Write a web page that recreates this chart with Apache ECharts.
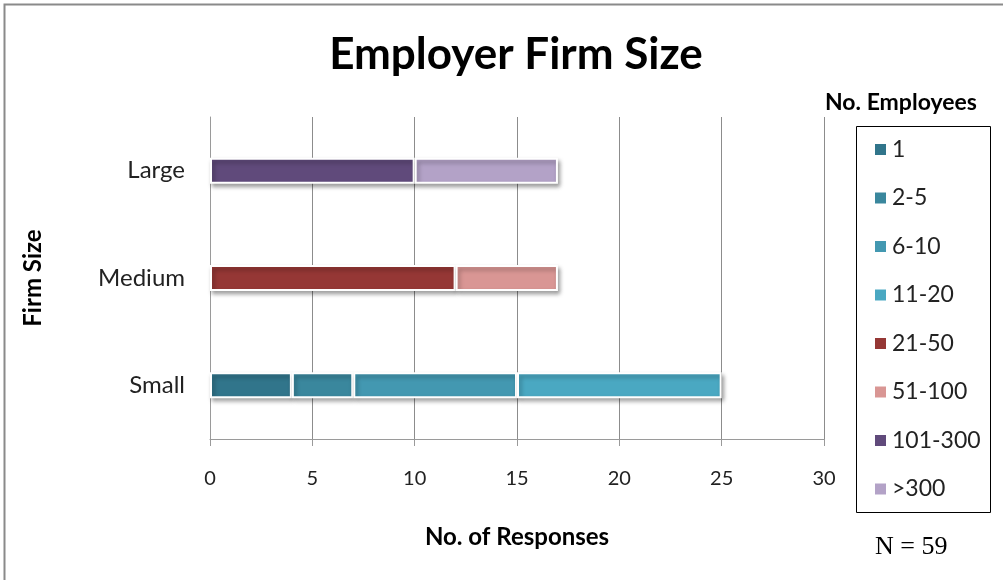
<!DOCTYPE html>
<html>
<head>
<meta charset="utf-8">
<script src="https://cdn.jsdelivr.net/npm/echarts@6/dist/echarts.min.js"></script>
<style>
  html, body { margin: 0; padding: 0; background: #fff; }
  #chart { width: 1003px; height: 580px; }
</style>
</head>
<body>
<div id="chart"></div>
<script>
// Firm size categories (bottom to top on the vertical axis)
const firmSizes = ['Small', 'Medium', 'Large'];

// Employee-count bands shown in the legend
const bands = ['1', '2-5', '6-10', '11-20', '21-50', '51-100', '101-300', '>300'];

// Responses per band, per firm size (Small, Medium, Large)
const resp1      = [4, null, null];
const resp2to5   = [3, null, null];
const resp6to10  = [8, null, null];
const resp11to20 = [10, null, null];
const resp21to50 = [null, 12, null];
const resp51to100 = [null, 5, null];
const resp101to300 = [null, null, 10];
const respOver300 = [null, null, 7];

const bandValues = [resp1, resp2to5, resp6to10, resp11to20, resp21to50, resp51to100, resp101to300, respOver300];

const bandColors = ['#31758B', '#3A879D', '#4398B1', '#4AA8C2', '#953735', '#D99694', '#604A7B', '#B3A2C7'];

const xTicks = [0, 5, 10, 15, 20, 25, 30];

const FONT = 'Lato, "Open Sans", sans-serif';

const chart = echarts.init(document.getElementById('chart'));

const series = bands.map((name, i) => ({
  name: name,
  type: 'bar',
  stack: 'total',
  barWidth: 26,
  data: bandValues[i],
  itemStyle: {
    color: bandColors[i],
    borderColor: '#ffffff',
    borderWidth: 2,
    shadowColor: 'rgba(0,0,0,0.35)',
    shadowBlur: 4,
    shadowOffsetX: 2,
    shadowOffsetY: 3
  },
  emphasis: { disabled: true }
}));

chart.setOption({
  animation: false,
  backgroundColor: '#ffffff',
  title: {
    text: 'Employer Firm Size',
    left: 511,
    top: 28,
    textAlign: 'center',
    textStyle: { fontFamily: FONT, fontSize: 44, fontWeight: 'bold', color: '#000' }
  },
  grid: { left: 210, right: 179, top: 117, bottom: 141, containLabel: false },
  xAxis: {
    type: 'value',
    min: xTicks[0],
    max: xTicks[xTicks.length - 1],
    interval: 5,
    name: 'No. of Responses',
    nameLocation: 'middle',
    nameGap: 86,
    nameTextStyle: { fontFamily: FONT, fontSize: 24, fontWeight: 'bold', color: '#000' },
    axisLine: { show: true, lineStyle: { color: '#9a9a9a', width: 1 } },
    axisTick: { show: true, length: 7, lineStyle: { color: '#9a9a9a' } },
    axisLabel: { fontFamily: FONT, fontSize: 20, color: '#222', margin: 30 },
    splitLine: { show: true, lineStyle: { color: '#8c8c8c', width: 1 } }
  },
  yAxis: {
    type: 'category',
    data: firmSizes,
    name: 'Firm Size',
    nameLocation: 'middle',
    nameGap: 165,
    nameRotate: 90,
    nameTextStyle: { fontFamily: FONT, fontSize: 24, fontWeight: 'bold', color: '#000' },
    axisLine: { show: true, lineStyle: { color: '#9a9a9a', width: 1 } },
    axisTick: { show: false },
    axisLabel: { fontFamily: FONT, fontSize: 24, color: '#222', margin: 25 }
  },
  legend: {
    data: bands,
    orient: 'vertical',
    left: 868,
    top: 133,
    icon: 'rect',
    itemWidth: 13,
    itemHeight: 13,
    itemGap: 25.5,
    selectedMode: false,
    textStyle: { fontFamily: FONT, fontSize: 23, color: '#222', lineHeight: 20 }
  },
  graphic: [
    {
      type: 'rect',
      shape: { x: 4.5, y: 4.5, width: 1100, height: 700 },
      style: { fill: 'none', stroke: '#8a8a8a', lineWidth: 2 },
      silent: true
    },
    {
      type: 'rect',
      shape: { x: 856.5, y: 126.5, width: 134, height: 386 },
      style: { fill: 'none', stroke: '#000', lineWidth: 1 },
      silent: true
    },
    {
      type: 'text',
      left: 825,
      top: 91,
      style: { text: 'No. Employees', font: 'bold 23px ' + FONT, fill: '#000' },
      silent: true
    },
    {
      type: 'text',
      left: 875,
      top: 534,
      style: { text: 'N = 59', font: '26px "Liberation Serif", "DejaVu Serif", serif', fill: '#000' },
      silent: true
    }
  ],
  series: series
});
</script>
</body>
</html>
